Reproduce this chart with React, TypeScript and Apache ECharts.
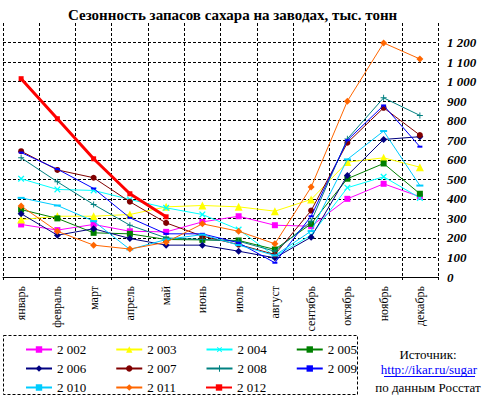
import React, { useEffect, useRef } from 'react';
import * as echarts from 'echarts';

const months = ['январь', 'февраль', 'март', 'апрель', 'май', 'июнь', 'июль', 'август', 'сентябрь', 'октябрь', 'ноябрь', 'декабрь'];
const yearNames = ['2 002', '2 003', '2 004', '2 005', '2 006', '2 007', '2 008', '2 009', '2 010', '2 011', '2 012'];

const y2002 = [269, 240, 269, 234, 231, 282, 311, 265, 260, 400, 477, 411];
const y2003 = [294, 311, 311, 320, 359, 366, 359, 337, 397, 588, 610, 562];
const y2004 = [503, 448, 443, 397, 354, 320, 243, 106, 214, 457, 513, 405];
const y2005 = [345, 300, 226, 221, 192, 190, 187, 141, 272, 503, 581, 426];
const y2006 = [324, 214, 247, 197, 163, 163, 132, 98, 204, 520, 704, 718];
const y2007 = [644, 548, 508, 385, 277, 209, 166, 115, 340, 687, 866, 726];
const y2008 = [610, 487, 371, 265, 200, 192, 183, 132, 285, 707, 917, 827];
const y2009 = [637, 552, 453, 303, 221, 221, 175, 73, 311, 700, 878, 667];
const y2010 = [405, 366, 286, 141, 192, 217, 163, 110, 235, 602, 747, 468];
const y2011 = [363, 234, 163, 143, 178, 272, 234, 170, 460, 900, 1198, 1116];
const y2012 = [1015, 810, 605, 426, 308, null, null, null, null, null, null, null];

const yearValues = [y2002, y2003, y2004, y2005, y2006, y2007, y2008, y2009, y2010, y2011, y2012];

const PLUS = 'path://M4.2,0H5.8V4.2H10V5.8H5.8V10H4.2V5.8H0V4.2H4.2Z';

const styles: any[] = [
  { color: '#FF00FF', symbol: 'rect', size: 6 },
  { color: '#FFFF00', symbol: 'triangle', size: 8 },
  { color: '#00FFFF', symbol: PLUS, size: 8, rotate: 45 },
  { color: '#008000', symbol: 'rect', size: 6 },
  { color: '#000080', symbol: 'diamond', size: 7 },
  { color: '#800000', symbol: 'circle', size: 6 },
  { color: '#008080', symbol: PLUS, size: 6 },
  { color: '#0000FF', symbol: 'rect', size: [5, 2] },
  { color: '#00CCFF', symbol: 'rect', size: [7, 2] },
  { color: '#FF6600', symbol: 'diamond', size: 7 },
  { color: '#FF0000', symbol: 'rect', size: 5, width: 3 },
];

const FONT = "'Liberation Serif', 'Times New Roman', Times, serif";

function fmt(v: number) {
  if (v === 1300) return '';
  return String(v).replace(/\B(?=(\d{3})+(?!\d))/g, ' ');
}

export default function App() {
  const ref = useRef<HTMLDivElement>(null);
  useEffect(() => {
    const chart = echarts.init(ref.current!, null, { renderer: 'svg' });
    const series = yearNames.map((name, i) => {
      const s = styles[i];
      return {
        name,
        type: 'line',
        data: yearValues[i],
        symbol: s.symbol,
        symbolSize: s.size,
        symbolRotate: s.rotate || 0,
        showSymbol: true,
        lineStyle: { color: s.color, width: s.width || 1 },
        itemStyle: { color: s.color },
        emphasis: { disabled: true },
        z: 3 + i,
      };
    });
    const legendBase = {
      left: 20,
      itemWidth: 26,
      itemHeight: 8,
      itemGap: 29,
      z: 20,
      textStyle: { fontFamily: FONT, fontSize: 13, color: '#000' },
      selectedMode: false,
    };
    chart.setOption({
      animation: false,
      title: {
        text: 'Сезонность запасов сахара на заводах, тыс. тонн',
        left: 63,
        top: 2,
        textStyle: { fontFamily: FONT, fontSize: 15, fontWeight: 'bold', color: '#000' },
      },
      grid: { left: 3, right: 46, top: 23, bottom: 121, containLabel: false, outerBoundsMode: 'none' },
      legend: [
        { ...legendBase, top: 338, data: yearNames.slice(0, 4) },
        { ...legendBase, top: 357, data: yearNames.slice(4, 8) },
        { ...legendBase, top: 376, data: yearNames.slice(8, 11) },
      ],
      xAxis: {
        type: 'category',
        data: months,
        boundaryGap: true,
        axisLine: { lineStyle: { color: '#000', width: 1 } },
        axisTick: { show: true, length: 3, lineStyle: { color: '#000' } },
        axisLabel: { rotate: 90, interval: 0, margin: 9, fontFamily: FONT, fontSize: 12, color: '#000' },
        splitLine: { show: true, interval: 0, lineStyle: { color: '#000', type: [3, 2], width: 1 } },
      },
      yAxis: {
        type: 'value',
        position: 'right',
        min: 0,
        max: 1300,
        interval: 100,
        axisLine: { show: false },
        axisTick: { show: false },
        axisLabel: {
          formatter: fmt,
          margin: 9,
          fontFamily: FONT,
          fontSize: 13,
          fontWeight: 'bold',
          fontStyle: 'italic',
          color: '#000',
        },
        splitLine: { show: true, showMaxLine: false, showMinLine: false, lineStyle: { color: '#000', type: [3, 2], width: 1 } },
      },
      graphic: [
        {
          type: 'rect',
          z: 10,
          shape: { x: 3.5, y: 335.5, width: 354, height: 59 },
          style: { fill: '#fff', stroke: '#000', lineWidth: 1, lineDash: [3, 2] },
        },
        {
          type: 'text',
          z: 10,
          x: 428,
          y: 354,
          style: { text: 'Источник:', fill: '#000', fontFamily: FONT, fontSize: 13, textAlign: 'center', textVerticalAlign: 'middle' },
        },
        {
          type: 'text',
          z: 10,
          x: 429,
          y: 369,
          style: { text: 'http://ikar.ru/sugar', fill: '#0000FF', fontFamily: FONT, fontSize: 13, textAlign: 'center', textVerticalAlign: 'middle' },
        },
        {
          type: 'line',
          z: 10,
          shape: { x1: 384, y1: 376.5, x2: 475, y2: 376.5 },
          style: { stroke: '#0000FF', lineWidth: 1 },
        },
        {
          type: 'text',
          z: 10,
          x: 428,
          y: 387,
          style: { text: 'по данным Росстат', fill: '#000', fontFamily: FONT, fontSize: 13, textAlign: 'center', textVerticalAlign: 'middle' },
        },
      ],
      series,
    });
    return () => chart.dispose();
  }, []);
  return <div ref={ref} style={{ position: 'absolute', left: 0, top: 0, width: 484, height: 398 }} />;
}
